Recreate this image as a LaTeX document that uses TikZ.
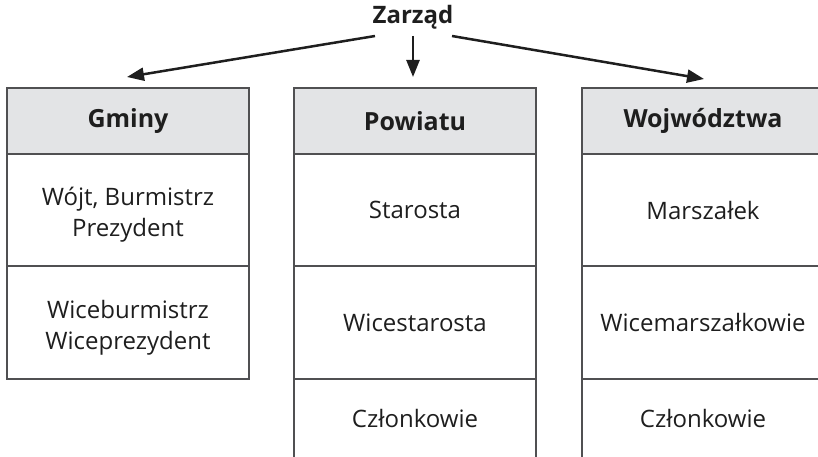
\documentclass[tikz,border=0pt]{standalone}
\usepackage{fontspec}
\setmainfont{Open Sans}
\usetikzlibrary{arrows.meta}
\definecolor{boxline}{RGB}{80,80,82}
\definecolor{headfill}{RGB}{227,228,230}
\definecolor{txt}{RGB}{30,30,30}
\begin{document}
\begin{tikzpicture}[x=1pt,y=-1pt,
  cell/.style={draw=boxline, line width=1.5pt, minimum width=242pt, align=center,
    inner sep=0pt, text=txt, font=\fontsize{24}{31}\selectfont},
  opencell/.style={minimum width=242pt, align=center, inner sep=0pt, text=txt,
    font=\fontsize{24}{31}\selectfont},
  label/.style={align=center, inner sep=0pt, text=txt, font=\fontsize{24}{31}\selectfont},
  head/.style={cell, fill=headfill, minimum height=66pt, font=\fontsize{25}{31}\selectfont\bfseries},
  side/.style={draw=boxline, line width=1.5pt},
  arr/.style={line width=2.5pt, draw=txt, -{Triangle[length=17pt,width=13pt]}}
]
\useasboundingbox (0,0) rectangle (818,457);

\node[text=txt, font=\fontsize{24}{31}\selectfont\bfseries] (z) at (413,17) {Zarząd};

% column 1
\node[head] (g0) at (128,121) {Gminy};
\node[cell, minimum height=112pt] (g1) at (128,210) {};
\node[label] (g1t) at (128,215) {Wójt, Burmistrz\\Prezydent};
\node[cell, minimum height=113pt] (g2) at (128,322.5) {};
\node[label] (g2t) at (128,328) {Wiceburmistrz\\Wiceprezydent};

% column 2
\node[head] (p0) at (415,121) {Powiatu};
\node[cell, minimum height=112pt] (p1) at (415,210) {Starosta};
\node[cell, minimum height=113pt] (p2) at (415,322.5) {Wicestarosta};
\node[opencell, minimum height=79pt] (p3) at (415,418.5) {Członkowie};
\draw[side] (p3.north west) -- (p3.south west);
\draw[side] (p3.north east) -- (p3.south east);

% column 3
\node[head] (w0) at (703,121) {Wojwództwa};
\node[cell, minimum height=112pt] (w1) at (703,210) {Marszałek};
\node[cell, minimum height=113pt] (w2) at (703,322.5) {Wicemarszałkowie};
\node[opencell, minimum height=79pt] (w3) at (703,418.5) {Członkowie};
\draw[side] (w3.north west) -- (w3.south west);
\draw[side] (w3.north east) -- (w3.south east);

% arrows
\coordinate (sL) at (375,36);
\coordinate (eL) at (127,77);
\coordinate (sM) at (413,36);
\coordinate (eM) at (413,77);
\coordinate (sR) at (452,36);
\coordinate (eR) at (704,79);
\draw[arr] (sL) -- (eL);
\draw[arr] (sM) -- (eM);
\draw[arr] (sR) -- (eR);
\end{tikzpicture}
\end{document}
